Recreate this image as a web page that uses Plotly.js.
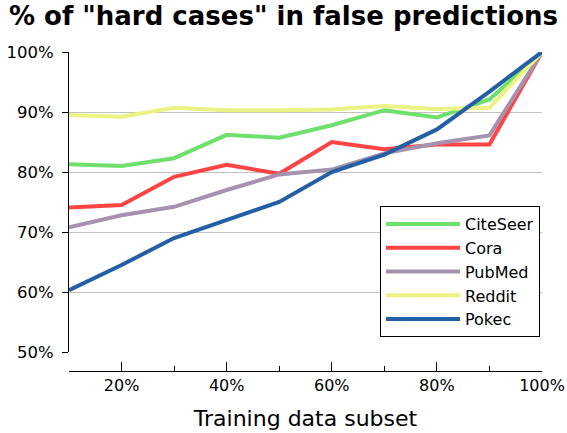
<!DOCTYPE html>
<html><head><meta charset="utf-8">
<script src="https://cdn.plot.ly/plotly-3.0.1.min.js"></script>
<style>html,body{margin:0;padding:0;background:#fff}#chart{width:567px;height:433px}</style>
</head><body><div id="chart"></div>
<script>
const subsets = [10, 20, 30, 40, 50, 60, 70, 80, 90, 100];
const citeseer = [81.3, 81.0, 82.3, 86.2, 85.7, 87.8, 90.3, 89.1, 92.1, 100];
const cora     = [74.1, 74.5, 79.2, 81.2, 79.7, 85.0, 83.8, 84.6, 84.6, 100];
const pubmed   = [70.8, 72.8, 74.2, 77.0, 79.6, 80.4, 83.1, 84.8, 86.1, 100];
const reddit   = [89.5, 89.2, 90.7, 90.3, 90.3, 90.4, 91.0, 90.5, 90.7, 100];
const pokec    = [60.3, 64.5, 69.0, 72.0, 75.0, 80.0, 82.9, 87.1, 93.4, 100];
const seriesNames = ['CiteSeer', 'Cora', 'PubMed', 'Reddit', 'Pokec'];
const seriesValues = [citeseer, cora, pubmed, reddit, pokec];
const colors = ['#6fe06c', '#ff4444', '#a592ae', '#ecf283', '#245fa6'];

const traces = seriesNames.map((n, i) => ({
  type: 'scatter', mode: 'lines', name: n, x: subsets, y: seriesValues[i],
  line: {color: colors[i], width: 4}
}));

const font = 'DejaVu Sans, sans-serif';
const layout = {
  width: 567, height: 433,
  margin: {l: 69, r: 25, t: 52, b: 62},
  paper_bgcolor: '#fff', plot_bgcolor: '#fff',
  font: {family: font, color: '#000', size: 16},
  title: {text: '<b>% of "hard cases" in false predictions</b>', font: {family: font, size: 26, color: '#000'},
          x: 0.5, xanchor: 'center', y: 0.985, yanchor: 'top'},
  showlegend: true,
  legend: {x: (380-69)/473, xanchor: 'left', y: (371-206)/319, yanchor: 'top',
           bgcolor: '#fff', bordercolor: '#000', borderwidth: 1,
           font: {family: font, size: 16}, tracegroupgap: 0, itemwidth: 74},
  xaxis: {
    range: [10, 100], tick0: 0, dtick: 20, ticksuffix: '%',
    anchor: 'free', position: 0,
    showline: true, linecolor: '#000', linewidth: 1,
    ticks: 'inside', ticklen: 9, tickcolor: '#000', tickwidth: 1,
    showgrid: false, zeroline: false,
    minor: {dtick: 10, tick0: 0, ticks: 'inside', ticklen: 5, tickcolor: '#000', showgrid: false},
    tickfont: {family: font, size: 16},
    title: {text: 'Training data subset', font: {family: font, size: 22}, standoff: 16}
  },
  yaxis: {
    domain: [(371-352)/319, 1],
    range: [50, 100], dtick: 10, ticksuffix: '%',
    showline: true, linecolor: '#000', linewidth: 1,
    ticks: 'outside', ticklen: 6, tickcolor: '#000',
    showgrid: true, gridcolor: '#c0c0c0', gridwidth: 1, zeroline: false,
    ticklabelstandoff: 5,
    tickfont: {family: font, size: 16.5}
  }
};
Plotly.newPlot('chart', traces, layout, {displayModeBar: false, staticPlot: true});
</script></body></html>
